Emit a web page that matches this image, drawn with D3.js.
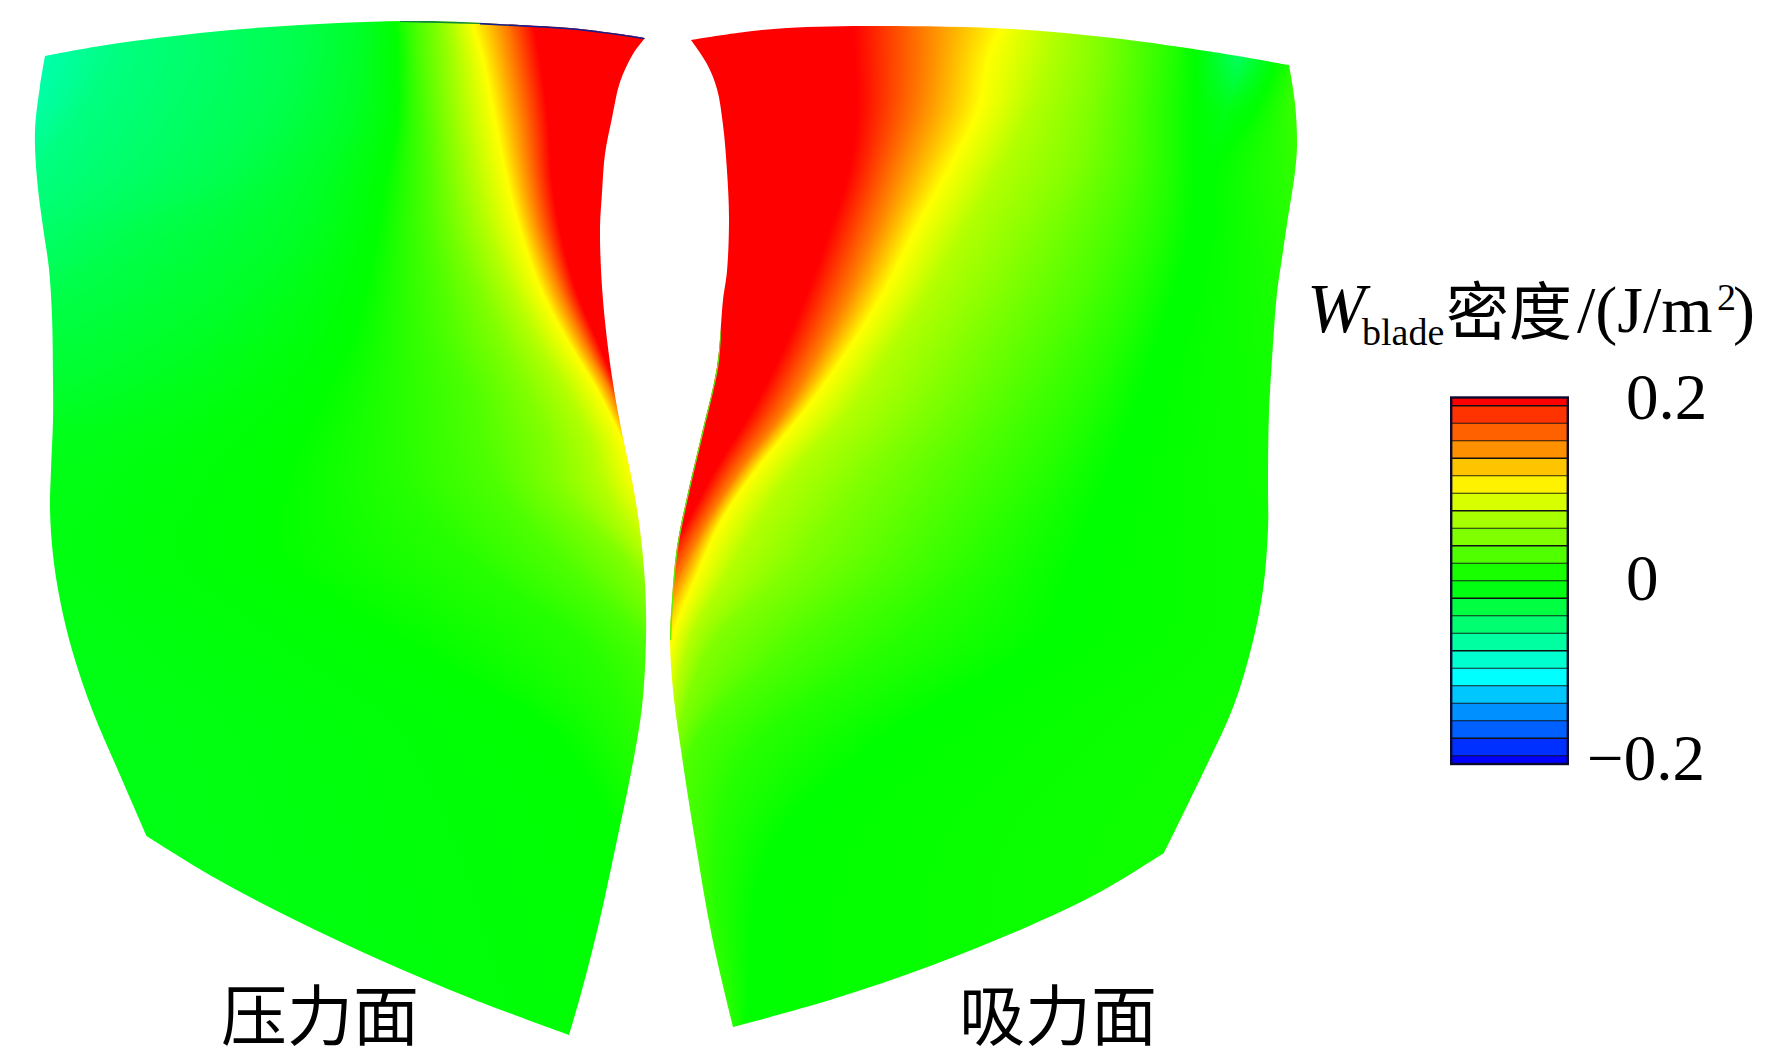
<!DOCTYPE html>
<html><head><meta charset="utf-8">
<script src="https://cdn.jsdelivr.net/npm/d3@7/dist/d3.min.js"></script>
<style>html,body{margin:0;padding:0;background:#fff}svg{display:block}</style></head>
<body><div id="chart"></div>
<script>
// ---------- data (blade plane units) ----------
const colorDomain = [-0.2,-0.1,0,0.1,0.2];
const colorRange = ["#0000ff","#00ffff","#00ff00","#ffff00","#ff0000"];
const legendColors = ["#ff0000","#ff3300","#ff6000","#ff9000","#ffc400","#fff200","#d8ff00","#a8ff00","#80ff00","#50ff00","#18ff00","#00ff10","#00ff40","#00ff70","#00ffa0","#00ffd0","#00ffff","#00c8ff","#0090ff","#0060ff","#0030ff","#0000ff"];
const legendThick = [0,3,6,8,11,14,19];
const legendTicks = [0.2,0,-0.2];
const legendTickLabels = ["0.2","0","\u22120.2"];

const pressureEdges = [
 [[45,56],[100,46],[200,33],[300,25],[420,21],[520,25],[570,28],[620,34],[645,38]],
 [[645,38],[633,54],[620,82],[612,118],[605,154],[602,193],[600,232],[603,300],[612,377],[622,433],[632,480],[640,530],[645,583],[646,640],[642,707],[631,773],[617,840],[599,923],[582,990],[569,1035]],
 [[569,1035],[470,998],[380,960],[295,920],[215,878],[146.5,836]],
 [[146.5,836],[120,775],[93,712],[72,650],[60,600],[53,555],[50,510],[51,470],[53,420],[53,379],[52,317],[49,269],[43,227],[37,179],[35,131],[40,86],[45,56]]
];
const suctionEdges = [
 [[691,40],[737,33],[787,28],[880,26],[1013,29],[1113,38],[1213,52],[1289,65]],
 [[1289,65],[1295,103],[1297,145],[1295,172],[1287,224],[1282,258],[1277,293],[1273,344],[1269,413],[1268,482],[1268,530],[1263,590],[1252,645],[1234,705],[1203,773],[1164,853]],
 [[1164,853],[1100,892],[1020,930],[930,966],[830,1000],[733,1027]],
 [[733,1027],[712,937],[695,840],[681,750],[673,690],[670,640],[672,600],[677,547],[687,497],[702,433],[717,367],[723,300],[727,271],[729,218],[727,171],[723,125],[717,89],[707,64],[691,40]]
];
const pressureRimDark = [[400,21],[440,22],[480,23]];
const pressureRimBlue = [[480,23],[520,25],[570,28],[620,34],[645,38]];
const suctionRimGreen = [[720,330],[717,367],[702,433],[687,497],[677,547],[672,600],[670,640]];

// field levels along a blade section, left to right, and where each level sits on each section
const pressureRowY = [21,60,120,180,230,290,340,390,440,490,560,640,740,1035];
const pressureLevels = [-0.08,-0.05,-0.03,-0.015,0,0.015,0.03,0.05,0.07,0.1,0.15,0.2];
const pressureContours = [
 [-10,115,300,362,395,405,418,437,452,472,505,533],
 [-10,112,295,360,397,408,420,440,458,483,512,540],
 [-25,75,270,350,397,408,425,445,465,495,522,548],
 [-70,25,220,320,385,405,428,452,475,507,530,552],
 [-150,-40,140,300,377,402,430,460,487,520,540,560],
 [-300,-100,50,250,365,400,440,480,510,541,560,576],
 [-400,-200,-50,190,350,400,450,500,535,567,583,597],
 [-500,-300,-150,100,325,400,470,525,565,597,610,618],
 [-600,-400,-250,-50,300,400,480,545,590,622,632,640],
 [-700,-500,-350,-150,280,410,500,560,605,640,655,670],
 [-800,-600,-450,-250,280,470,560,625,650,690,710,730],
 [-800,-600,-450,-250,400,580,645,680,720,760,800,840],
 [-800,-600,-450,-250,560,635,700,760,800,840,880,920],
 [-800,-600,-450,-250,700,760,800,840,880,920,960,1000]
];
const suctionRowY = [25,60,110,170,230,290,350,410,470,520,570,640,740,850,1030];
const suctionDip = [-0.035,-0.035,-0.008,0,0,0,0,0,0,0,0,0,0,0,0];
const suctionLevels = [0.2,0.15,0.1,0.07,0.05,0.03,0.015,0,suctionDip,0,0.02];
const suctionContours = [
 [853,925,1002,1055,1100,1140,1170,1195,1235,1270,1300],
 [855,925,988,1048,1100,1140,1170,1195,1238,1275,1300],
 [857,918,978,1030,1090,1135,1165,1195,1225,1255,1290],
 [849,897,948,1000,1075,1130,1165,1195,1205,1215,1300],
 [830,875,915,965,1040,1110,1155,1190,1200,1210,1320],
 [808,850,885,930,1005,1085,1135,1175,1185,1195,1360],
 [783,820,848,890,965,1050,1110,1155,1165,1175,1420],
 [752,785,805,850,925,1010,1080,1135,1145,1155,1500],
 [715,740,756,795,870,965,1045,1110,1120,1130,1600],
 [688,708,722,760,830,930,1010,1090,1100,1110,1700],
 [660,682,699,730,790,890,975,1070,1080,1090,1800],
 [630,650,672,690,715,800,900,1040,1050,1060,1900],
 [620,640,660,668,676,695,760,880,890,900,2000],
 [600,620,640,650,665,690,715,770,780,790,2000],
 [560,590,620,660,690,715,733,745,755,765,2000]
];

// ---------- scales ----------
const width = 1772, height = 1059;
const x = d3.scaleLinear().domain([0,1772]).range([0,width]);
const y = d3.scaleLinear().domain([0,1059]).range([0,height]);
const color = d3.scaleLinear().domain(colorDomain).range(colorRange).clamp(true);
const legendY = d3.scaleLinear().domain([-0.2,0.2]).range([764.5,397]);
const legendTickY = d3.scaleLinear().domain([-0.2,0.2]).range([780,419]);

const svg = d3.select("#chart").append("svg").attr("width",width).attr("height",height)
  .attr("viewBox",`0 0 ${width} ${height}`).style("background","#fff");
const defs = svg.append("defs");

const smooth = d3.line().x(d=>x(d[0])).y(d=>y(d[1])).curve(d3.curveCatmullRom.alpha(0.5));
const outline = edges => edges.map((e,i)=>{const s=smooth(e);return i?s.replace(/^M/,"L"):s}).join("")+"Z";

// smooth interpolation of a contour column across the rows
function across(rows, col, v){
  let i = d3.bisectRight(rows,v)-1;
  i = Math.max(0,Math.min(rows.length-2,i));
  const y0=rows[i], y1=rows[i+1], h=y1-y0, t=(v-y0)/h;
  const p0=col[i], p1=col[i+1];
  const m0 = i>0 ? (p1-col[i-1])/(y1-rows[i-1]) : (p1-p0)/h;
  const m1 = i<rows.length-2 ? (col[i+2]-p0)/(rows[i+2]-y0) : (p1-p0)/h;
  const t2=t*t,t3=t2*t;
  return (2*t3-3*t2+1)*p0+(t3-2*t2+t)*h*m0+(-2*t3+3*t2)*p1+(t3-t2)*h*m1;
}

function drawBlade(name, edges, rowY, levels, contours){
  const pathD = outline(edges);
  defs.append("clipPath").attr("id",name+"-clip").append("path").attr("d",pathD);
  const pts = edges.flat();
  const xMin=d3.min(pts,d=>d[0])-2,xMax=d3.max(pts,d=>d[0])+2;
  const yMin=Math.floor(d3.min(pts,d=>d[1]))-1,yMax=Math.ceil(d3.max(pts,d=>d[1]))+1;
  const g = svg.append("g").attr("class",name).attr("clip-path",`url(#${name}-clip)`);
  const cols = levels.map((_,j)=>contours.map(r=>r[j]));
  const levelAt = levels.map(l=>Array.isArray(l)?d3.scaleLinear().domain(rowY).range(l):()=>l);
  d3.range(yMin,yMax).forEach(v=>{
    const vv = Math.max(rowY[0],Math.min(rowY[rowY.length-1],v+0.5));
    let xs = cols.map(c=>across(rowY,c,vv));
    for(let k=1;k<xs.length;k++) xs[k]=Math.max(xs[k],xs[k-1]);
    const a=xs[0], b=Math.max(xs[xs.length-1],a+1);
    const id=`${name}-g${v}`;
    const grad=defs.append("linearGradient").attr("id",id).attr("gradientUnits","userSpaceOnUse")
      .attr("x1",x(a)).attr("x2",x(b)).attr("y1",0).attr("y2",0);
    grad.selectAll("stop").data(levelAt).join("stop")
      .attr("offset",(d,i)=>((xs[i]-a)/(b-a)).toFixed(5))
      .attr("stop-color",d=>color(d(vv)));
    g.append("rect").attr("x",x(xMin)).attr("y",y(v)).attr("width",x(xMax)-x(xMin)).attr("height",1.2)
      .attr("fill",`url(#${id})`).attr("shape-rendering","crispEdges");
  });
  return g;
}

const pg = drawBlade("pressure",pressureEdges,pressureRowY,pressureLevels,pressureContours);
const sg = drawBlade("suction",suctionEdges,suctionRowY,suctionLevels,suctionContours);

const rim = d3.line().x(d=>x(d[0])).y(d=>y(d[1])).curve(d3.curveCatmullRom.alpha(0.5));
pg.append("path").attr("d",rim(pressureRimDark)).attr("fill","none").attr("stroke","#0a8a3a").attr("stroke-width",2.2);
pg.append("path").attr("d",rim(pressureRimBlue)).attr("fill","none").attr("stroke","#16208c").attr("stroke-width",3);
sg.append("path").attr("d",rim(suctionRimGreen)).attr("fill","none").attr("stroke","#60f000").attr("stroke-width",2.4);

// ---------- legend ----------
const step = 0.4/(legendColors.length-1);
const lg = svg.append("g").attr("class","legend");
const lx0=x(1450), lx1=x(1569);
legendColors.forEach((c,k)=>{
  const v=0.2-k*step;
  const top=legendY(Math.min(0.2,v+step/2)), bot=legendY(Math.max(-0.2,v-step/2));
  lg.append("rect").attr("x",lx0).attr("y",top).attr("width",lx1-lx0).attr("height",bot-top+0.5).attr("fill",c);
});
d3.range(legendColors.length-1).forEach(k=>{
  const v=0.2-(k+0.5)*step;
  lg.append("line").attr("x1",lx0).attr("x2",lx1).attr("y1",legendY(v)).attr("y2",legendY(v))
    .attr("stroke","#111").attr("stroke-width",legendThick.includes(k)?1.6:0.9);
});
lg.append("rect").attr("x",lx0+1.2).attr("y",legendY(0.2)+0.5).attr("width",lx1-lx0-2.4).attr("height",legendY(-0.2)-legendY(0.2)-1)
  .attr("fill","none").attr("stroke","#0a0a30").attr("stroke-width",2.4);

const serif = "'Liberation Serif','Times New Roman',serif";
const cjk = "'Noto Sans CJK SC',sans-serif";
const txt=(s,tx,ty,size,fam,extra={})=>{
  const t=svg.append("text").attr("x",tx).attr("y",ty).attr("font-size",size).attr("font-family",fam).attr("fill","#000").text(s);
  Object.entries(extra).forEach(([k,v])=>t.attr(k,v));
  return t;
};
legendTicks.forEach((v,i)=>{
  txt(legendTickLabels[i], v<0?1587:1626, legendTickY(v), 65, serif);
});

// legend title
txt("W",1307,332,70,serif,{"font-style":"italic"});
txt("blade",1362,345,38,serif);
txt("密度",1446,334,63,cjk);
txt("/(J/m",1577,332,66,serif);
txt("2",1717,310,38,serif);
txt(")",1733,332,66,serif);

// section labels
txt("压力面",221,1040,66,cjk);
txt("吸力面",959,1040,66,cjk);
</script></body></html>
